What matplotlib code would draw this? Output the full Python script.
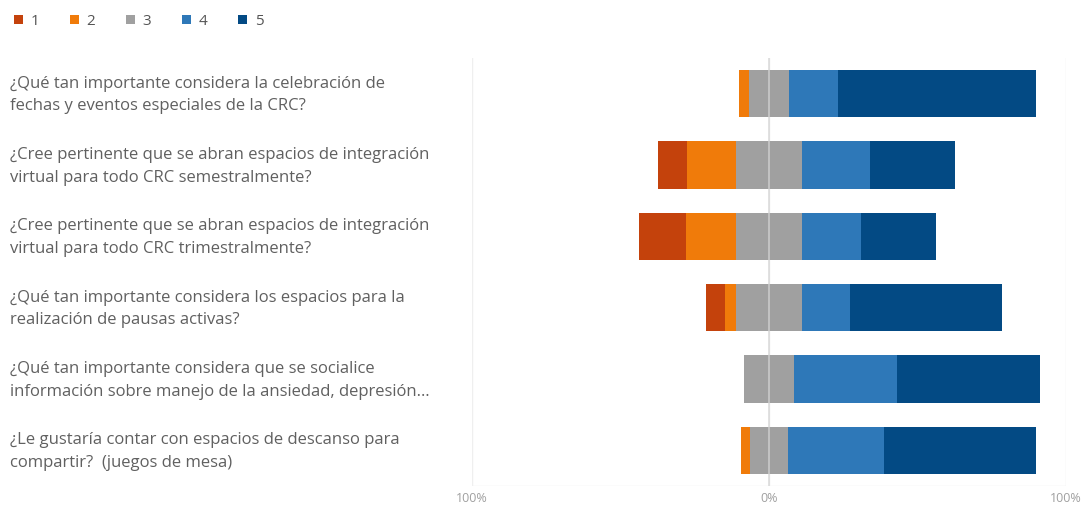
import matplotlib
matplotlib.use("Agg")
import matplotlib.pyplot as plt
import matplotlib.transforms as mtransforms
from matplotlib.patches import Patch
import numpy as np

plt.rcParams["font.family"] = ["Open Sans", "DejaVu Sans"]

questions = [
    "¿Qué tan importante considera la celebración de\nfechas y eventos especiales de la CRC?",
    "¿Cree pertinente que se abran espacios de integración\nvirtual para todo CRC semestralmente?",
    "¿Cree pertinente que se abran espacios de integración\nvirtual para todo CRC trimestralmente?",
    "¿Qué tan importante considera los espacios para la\nrealización de pausas activas?",
    "¿Qué tan importante considera que se socialice\ninformación sobre manejo de la ansiedad, depresión…",
    "¿Le gustaría contar con espacios de descanso para\ncompartir?  (juegos de mesa)",
]
levels = ["1", "2", "3", "4", "5"]

# percentage of answers per level
pct_1 = [0.0, 9.8, 15.8, 6.4, 0.0, 0.0]
pct_2 = [3.3, 16.5, 16.8, 3.7, 0.0, 3.0]
pct_3 = [13.3, 22.2, 22.2, 22.2, 16.5, 13.1]
pct_4 = [16.7, 22.9, 19.9, 16.2, 35.0, 32.3]
pct_5 = [66.7, 28.6, 25.3, 51.2, 48.1, 51.2]

tick_pos = [-100, 0, 100]
tick_labels = ["100%", "0%", "100%"]

colors = ["#c4420c", "#f07b0a", "#a0a0a0", "#2e78b8", "#034a84"]

fig = plt.figure(figsize=(10.92, 5.11), dpi=100)
ax = fig.add_axes([472 / 1092, 25 / 511, 594 / 1092, 428 / 511])

y = np.arange(len(questions))
series = [np.array(s) for s in (pct_1, pct_2, pct_3, pct_4, pct_5)]
left = -(series[0] + series[1] + series[2] / 2)
for vals, col in zip(series, colors):
    ax.barh(y, vals, left=left, height=0.66, color=col, zorder=2)
    left = left + vals

for xv in tick_pos:
    ax.axvline(xv, color="#efefef", lw=1, zorder=0)
ax.axhline(5.5, color="#efefef", lw=1, zorder=0)
ax.axvline(0, color="#d4d4d4", lw=1.2, alpha=0.8, zorder=3)

ax.set_xlim(-100, 100)
ax.set_ylim(5.5, -0.5)
ax.set_xticks(tick_pos)
ax.set_xticklabels(tick_labels, color="#a0a0a0", fontsize=9)
ax.tick_params(axis="x", length=0, pad=4)
ax.set_yticks([])
for sp in ax.spines.values():
    sp.set_visible(False)

trans = mtransforms.blended_transform_factory(fig.transFigure, ax.transData)
for yi, q in zip(y, questions):
    ax.text(10 / 1092, yi + 0.02, q, transform=trans, ha="left", va="center",
            fontsize=12, color="#606060", linespacing=1.55)

handles = [Patch(facecolor=c, edgecolor="none") for c in colors]
fig.legend(handles, levels, loc="upper left", bbox_to_anchor=(0.0, 1.0),
           ncol=5, frameon=False, fontsize=11, handlelength=0.6,
           handleheight=0.6, handletextpad=0.5, columnspacing=2.0,
           labelcolor="#555555")

fig.savefig("out.png", dpi=100, facecolor="white")
